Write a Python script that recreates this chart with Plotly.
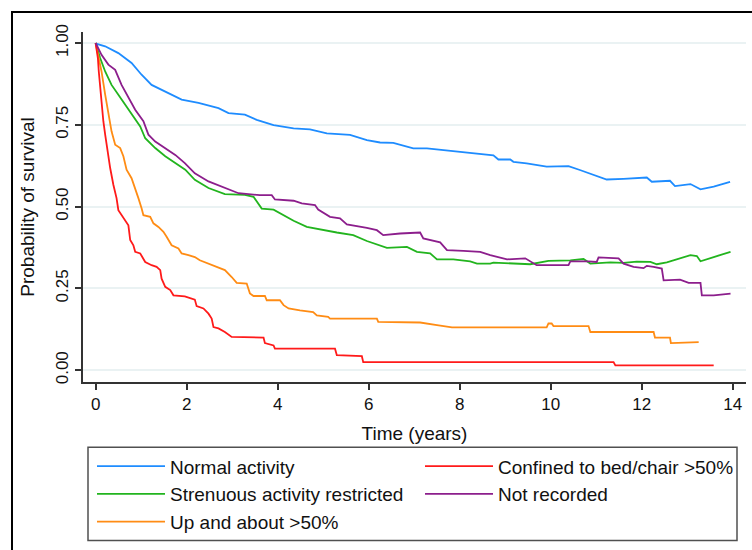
import plotly.graph_objects as go

# ---- data (time in years, survival probability) ----
normal_t = [0, 0.01, 0.21, 0.50, 0.79, 1.01, 1.23, 1.53, 1.89, 2.26, 2.70, 2.92, 3.28, 3.54, 3.91, 4.35, 4.71, 5.08, 5.59, 5.96, 6.25, 6.54, 6.98, 7.28, 7.72, 8.23, 8.67, 8.74, 8.85, 9.11, 9.18, 9.47, 9.91, 10.39, 10.64, 11.01, 11.23, 11.60, 12.11, 12.22, 12.62, 12.73, 13.07, 13.29, 13.58, 13.94]
normal_s = [1.0, 0.998, 0.990, 0.969, 0.939, 0.903, 0.872, 0.852, 0.827, 0.817, 0.801, 0.786, 0.781, 0.765, 0.749, 0.739, 0.736, 0.724, 0.719, 0.703, 0.696, 0.695, 0.678, 0.678, 0.671, 0.665, 0.657, 0.657, 0.644, 0.644, 0.637, 0.632, 0.622, 0.624, 0.612, 0.593, 0.583, 0.585, 0.589, 0.576, 0.579, 0.563, 0.569, 0.553, 0.561, 0.576]

strenuous_t = [0, 0.10, 0.21, 0.35, 0.50, 0.65, 0.87, 0.98, 1.09, 1.31, 1.53, 1.75, 1.97, 2.18, 2.48, 2.84, 3.28, 3.47, 3.65, 3.91, 4.13, 4.35, 4.64, 5.00, 5.30, 5.66, 5.96, 6.40, 6.84, 7.06, 7.35, 7.50, 7.86, 8.23, 8.38, 8.67, 8.74, 9.55, 9.95, 10.43, 10.72, 10.87, 11.31, 11.60, 11.89, 12.19, 12.33, 12.55, 12.84, 13.07, 13.21, 13.29, 13.58, 13.95]
strenuous_s = [1.0, 0.954, 0.913, 0.872, 0.842, 0.811, 0.765, 0.745, 0.709, 0.679, 0.654, 0.633, 0.613, 0.582, 0.557, 0.538, 0.536, 0.530, 0.494, 0.491, 0.474, 0.457, 0.438, 0.428, 0.421, 0.413, 0.395, 0.374, 0.377, 0.362, 0.357, 0.339, 0.339, 0.333, 0.326, 0.326, 0.329, 0.324, 0.334, 0.336, 0.340, 0.326, 0.330, 0.328, 0.332, 0.331, 0.324, 0.330, 0.342, 0.352, 0.349, 0.333, 0.346, 0.362]

upabout_t = [0, 0.06, 0.13, 0.21, 0.28, 0.35, 0.43, 0.54, 0.61, 0.68, 0.79, 0.87, 0.94, 1.01, 1.05, 1.20, 1.27, 1.38, 1.49, 1.56, 1.67, 1.82, 1.89, 2.04, 2.18, 2.29, 2.48, 2.66, 2.84, 2.99, 3.10, 3.32, 3.39, 3.47, 3.72, 3.76, 4.05, 4.13, 4.24, 4.49, 4.78, 4.86, 5.11, 5.15, 6.18, 6.21, 7.13, 7.50, 7.83, 9.91, 9.95, 10.02, 10.06, 10.83, 10.87, 12.26, 12.29, 12.62, 12.64, 13.25]
upabout_s = [1.0, 0.964, 0.913, 0.842, 0.781, 0.730, 0.689, 0.679, 0.654, 0.613, 0.587, 0.557, 0.526, 0.495, 0.474, 0.469, 0.449, 0.438, 0.423, 0.408, 0.382, 0.372, 0.357, 0.352, 0.346, 0.336, 0.326, 0.316, 0.306, 0.285, 0.267, 0.265, 0.235, 0.227, 0.227, 0.214, 0.214, 0.199, 0.189, 0.183, 0.178, 0.168, 0.163, 0.158, 0.158, 0.148, 0.146, 0.138, 0.131, 0.131, 0.143, 0.143, 0.135, 0.135, 0.117, 0.117, 0.100, 0.100, 0.083, 0.086]

confined_t = [0, 0.05, 0.07, 0.10, 0.13, 0.17, 0.21, 0.24, 0.28, 0.32, 0.39, 0.46, 0.50, 0.57, 0.65, 0.72, 0.76, 0.83, 0.87, 0.98, 1.09, 1.23, 1.34, 1.42, 1.45, 1.53, 1.64, 1.71, 1.96, 2.18, 2.22, 2.37, 2.48, 2.55, 2.59, 2.70, 2.84, 2.99, 3.69, 3.72, 3.91, 3.94, 5.26, 5.30, 5.85, 5.88, 11.38, 11.42, 13.58]
confined_s = [1.0, 0.954, 0.913, 0.862, 0.811, 0.761, 0.720, 0.689, 0.658, 0.618, 0.567, 0.526, 0.489, 0.474, 0.459, 0.443, 0.398, 0.382, 0.362, 0.357, 0.331, 0.321, 0.316, 0.306, 0.280, 0.255, 0.245, 0.229, 0.226, 0.216, 0.196, 0.189, 0.173, 0.158, 0.132, 0.128, 0.117, 0.102, 0.100, 0.083, 0.076, 0.066, 0.066, 0.046, 0.043, 0.025, 0.025, 0.015, 0.015]

notrec_t = [0, 0.13, 0.28, 0.43, 0.57, 0.72, 0.87, 1.05, 1.16, 1.31, 1.53, 1.75, 1.96, 2.18, 2.48, 2.84, 3.14, 3.61, 3.87, 3.94, 4.35, 4.53, 4.82, 4.89, 5.15, 5.37, 5.52, 5.96, 6.18, 6.32, 6.69, 7.13, 7.20, 7.57, 7.72, 8.08, 8.45, 8.67, 9.04, 9.44, 9.58, 9.69, 10.39, 10.43, 10.83, 11.01, 11.05, 11.49, 11.60, 11.82, 12.04, 12.11, 12.26, 12.44, 12.48, 12.84, 13.03, 13.29, 13.32, 13.58, 13.95]
notrec_s = [1.0, 0.964, 0.934, 0.918, 0.872, 0.832, 0.796, 0.761, 0.720, 0.699, 0.679, 0.658, 0.633, 0.602, 0.577, 0.557, 0.541, 0.535, 0.535, 0.522, 0.518, 0.510, 0.505, 0.491, 0.469, 0.464, 0.446, 0.435, 0.428, 0.413, 0.418, 0.421, 0.403, 0.391, 0.367, 0.365, 0.362, 0.352, 0.339, 0.342, 0.329, 0.321, 0.321, 0.333, 0.333, 0.331, 0.345, 0.342, 0.326, 0.316, 0.312, 0.319, 0.316, 0.311, 0.275, 0.277, 0.267, 0.267, 0.229, 0.229, 0.234]

x_ticks = [0, 2, 4, 6, 8, 10, 12, 14]
y_ticks = [0, 0.25, 0.5, 0.75, 1.0]
y_ticklabels = ["0.00", "0.25", "0.50", "0.75", "1.00"]

# name, x, y, colour, legend column, rank within column
series = [
    ("Normal activity", normal_t, normal_s, "#1E8CFF", "legend", 1),
    ("Strenuous activity restricted", strenuous_t, strenuous_s, "#22B41E", "legend", 2),
    ("Up and about >50%", upabout_t, upabout_s, "#FF8C14", "legend", 3),
    ("Confined to bed/chair >50%", confined_t, confined_s, "#FF1A1A", "legend2", 1),
    ("Not recorded", notrec_t, notrec_s, "#8C1E8C", "legend2", 2),
]

FONT = "Arial"

# plot-area geometry in pixels (for placing frame/legend box in paper coords)
L, R, T, B = 83, 746, 32, 381.7
PW, PH = R - L, B - T

def px_x(x):
    return (x - L) / PW

def px_y(y):
    return (B - y) / PH

fig = go.Figure()
for name, t, s, col, leg, rank in series:
    fig.add_trace(go.Scatter(x=t, y=s, mode="lines", name=name,
                             line=dict(color=col, width=1.8),
                             legend=leg, legendrank=rank, hoverinfo="skip"))

legend_common = dict(orientation="v", yanchor="top", xanchor="left", itemwidth=68,
                     font=dict(size=19, family=FONT, color="#111111"),
                     borderwidth=0, bgcolor="rgba(0,0,0,0)", traceorder="normal")

fig.update_layout(
    width=752, height=550,
    margin=dict(l=L, r=752 - R, t=T, b=550 - B),
    paper_bgcolor="white", plot_bgcolor="white",
    font=dict(family=FONT, color="#111111"),
    showlegend=True,
    legend=dict(x=px_x(92), y=px_y(447), **legend_common),
    legend2=dict(x=px_x(420), y=px_y(447), **legend_common),
    xaxis=dict(range=[-0.277, 14.29], tickvals=x_ticks, showgrid=False, zeroline=False,
               showline=True, linecolor="#333333", linewidth=1.5,
               ticks="outside", ticklen=6, tickwidth=1.5, tickcolor="#333333",
               tickfont=dict(size=17, family=FONT, color="#111111"),
               title=dict(text="Time (years)", font=dict(size=19, family=FONT, color="#111111"), standoff=14)),
    yaxis=dict(range=[-0.0358, 1.0336], tickvals=y_ticks, ticktext=y_ticklabels,
               tickangle=-90, showgrid=True, gridcolor="#EAF2F3", gridwidth=1.5, zeroline=False,
               showline=True, linecolor="#333333", linewidth=1.5,
               ticks="outside", ticklen=6, tickwidth=1.5, tickcolor="#333333",
               tickfont=dict(size=17, family=FONT, color="#111111"),
               title=dict(text="Probability of survival", font=dict(size=19, family=FONT, color="#111111"), standoff=14)),
)

# outer graph-region frame (cropped at right and bottom in the reference)
fig.add_shape(type="rect", xref="paper", yref="paper",
              x0=px_x(12), x1=px_x(775), y0=px_y(600), y1=px_y(12),
              line=dict(color="black", width=2), layer="below")
# legend frame
fig.add_shape(type="rect", xref="paper", yref="paper",
              x0=px_x(88), x1=px_x(737), y0=px_y(540), y1=px_y(447),
              line=dict(color="#505050", width=1.5), layer="below")

fig.write_html("out.html")
